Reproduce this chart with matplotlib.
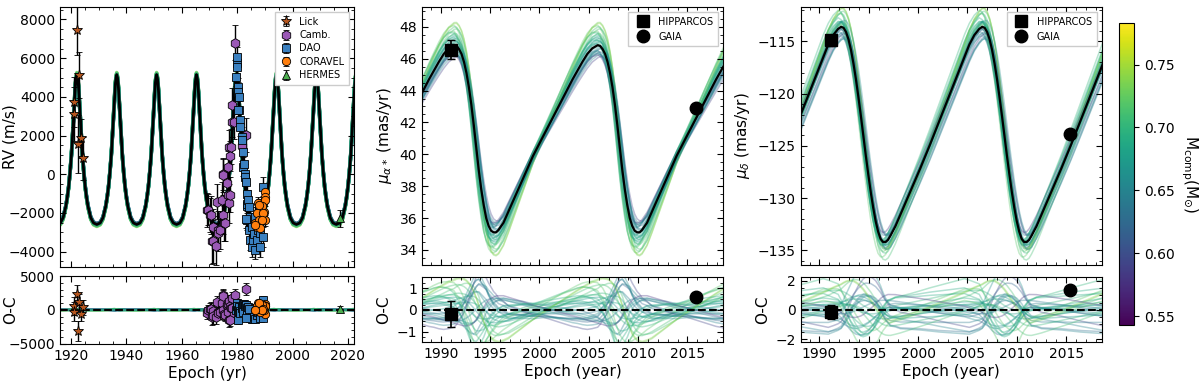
import numpy as np
import matplotlib
matplotlib.use("Agg")
import matplotlib.pyplot as plt
from matplotlib.ticker import MultipleLocator
from matplotlib.colors import Normalize
from matplotlib.cm import ScalarMappable
from matplotlib.lines import Line2D

# ---------------- data ----------------
# RV model, one orbital cycle starting at a peak (offset from peak [yr], RV [m/s])
rv_cycle_dt = [0.0, 0.25, 0.5, 0.75, 1.0, 1.25, 1.5, 2.0, 2.5, 3.0, 3.5, 4.0, 5.0, 6.0, 7.2,
               8.43, 9.43, 10.43, 10.93, 11.43, 11.93, 12.43, 12.93, 13.18, 13.43, 13.68, 13.93, 14.18]
rv_cycle_val = [5150, 5000, 4700, 4150, 3500, 2850, 2200, 1000, 100, -650, -1200, -1650, -2250, -2520, -2600,
                -2520, -2250, -1650, -1200, -650, 100, 1000, 2200, 2850, 3500, 4150, 4700, 5000]
rv_peak_epochs = [1907.7, 1922.1, 1936.5, 1950.9, 1965.3, 1979.8, 1994.2, 2008.6, 2023.0]

# mu_alpha* model, one cycle from a peak (offset [yr], value [mas/yr])
mua_cycle_dt = [0.0, 0.25, 0.5, 0.75, 1.0, 1.25, 1.5, 1.75, 2.0, 2.25, 2.5, 2.75, 3.0, 3.25, 3.5, 3.75,
                4.0, 4.25, 4.5, 5.0, 5.5, 6.0, 7.0, 8.0, 9.0, 10.0, 11.0, 12.0, 12.5, 13.0, 13.5, 14.0]
mua_cycle_val = [46.85, 46.8, 46.6, 46.3, 45.8, 45.1, 44.2, 43.1, 41.8, 40.4, 39.0, 37.8, 36.8, 36.0, 35.5, 35.2,
                 35.1, 35.1, 35.25, 35.7, 36.4, 37.1, 38.5, 39.9, 41.1, 42.3, 43.5, 44.7, 45.25, 45.8, 46.3, 46.65]
mua_peak_epochs = [1976.8, 1991.35, 2005.9]

# mu_delta model, one cycle from a peak (offset [yr], value [mas/yr])
mud_cycle_dt = [0.0, 0.25, 0.5, 0.75, 1.0, 1.25, 1.5, 1.75, 2.0, 2.25, 2.5, 2.75, 3.0, 3.25, 3.5, 3.75,
                4.0, 4.25, 4.5, 4.75, 5.0, 5.5, 6.0, 7.0, 8.0, 9.0, 10.0, 11.0, 12.0, 12.5, 13.0, 13.5, 14.0]
mud_cycle_val = [-113.6, -113.7, -114.1, -114.8, -115.8, -117.1, -118.6, -120.3, -122.1, -124.0, -125.9,
                 -127.7, -129.4, -130.9, -132.2, -133.2, -133.9, -134.2, -134.2, -134.0, -133.6, -132.7,
                 -131.6, -129.4, -127.2, -124.9, -122.5, -120.1, -117.7, -116.5, -115.3, -114.4, -113.8]
mud_peak_epochs = [1977.9, 1992.2, 2006.5]

# posterior draws: companion mass, amplitude scale, epoch shift [yr], mu_delta offset [mas/yr]
draw_mass = [0.68, 0.66, 0.71, 0.64, 0.67, 0.70, 0.65, 0.72, 0.63, 0.69, 0.67, 0.73, 0.66, 0.59, 0.70,
             0.64, 0.68, 0.71, 0.62, 0.67, 0.74, 0.65, 0.69, 0.58, 0.70, 0.66, 0.72, 0.64, 0.67, 0.69]
draw_scale = [1.05, 0.92, 1.18, 0.95, 1.08, 1.12, 0.90, 1.22, 0.97, 1.03, 1.10, 1.25, 0.94, 0.88, 1.15,
              1.00, 1.06, 1.20, 0.93, 1.02, 1.24, 0.96, 1.09, 0.90, 1.13, 0.99, 1.16, 0.91, 1.04, 1.07]
draw_shift = [0.05, -0.10, 0.15, -0.20, 0.10, -0.05, 0.20, -0.15, 0.25, -0.25, 0.00, 0.10, -0.10, 0.30, -0.30,
              0.15, -0.05, 0.05, 0.20, -0.20, 0.10, 0.25, -0.15, -0.10, 0.05, 0.30, -0.25, 0.00, 0.15, -0.30]
draw_offset = [0.3, -0.4, 0.6, -0.2, 0.1, 0.7, -0.6, 0.2, -0.8, 0.4, -0.1, 0.5, -0.3, 0.0, 0.8,
               -0.5, 0.2, -0.7, 0.3, -0.2, 0.6, -0.9, 0.1, 0.4, -0.4, 0.7, -0.6, 0.2, -0.1, 0.5]

# RV data
lick_t = [1921.0, 1921.1, 1922.0, 1922.6, 1922.9, 1923.5, 1924.4]
lick_rv = [3740, 3110, 7450, 1540, 5120, 1850, 820]
lick_err = [1300, 1400, 1300, 1500, 1200, 1000, 1100]

camb_t = [1969.0, 1969.6, 1970.2, 1970.4, 1971.0, 1971.4, 1971.4, 1972.3, 1972.6, 1973.2, 1973.2, 1973.8,
          1974.4, 1974.7, 1975.0, 1975.0, 1975.2, 1975.6, 1976.2, 1976.6, 1976.8, 1977.2, 1977.2, 1977.4,
          1977.8, 1978.1, 1978.3, 1978.7, 1979.2, 1981.6, 1983.2, 1977.4]
camb_rv = [-1850, -1846, -2110, -2104, -3430, -2707, -3480, -3690, -1420, -2880, -3050, -2880,
           -1330, 0, -40, -2100, -2530, -2530, -470, -1070, 390, 1390, -1500, 940,
           1420, 3575, 2710, 2710, 6790, 1460, 2030, -1070]
camb_err = [900, 800, 900, 1000, 1200, 900, 1100, 1000, 900, 1000, 900, 1000,
            900, 800, 900, 1000, 900, 900, 800, 900, 800, 900, 1000, 800,
            900, 900, 800, 900, 900, 800, 900, 900]

dao_t = [1979.6, 1979.8, 1980.0, 1980.0, 1980.4, 1980.4, 1980.7, 1980.8, 1980.2, 1981.0, 1981.0, 1981.6,
         1981.6, 1982.2, 1982.0, 1982.6, 1982.8, 1982.8, 1983.2, 1983.4, 1983.4, 1983.7, 1984.0, 1983.7,
         1984.1, 1984.6, 1984.7, 1985.2, 1985.3, 1985.8, 1985.9, 1986.4, 1986.5, 1987.1, 1987.7, 1988.2,
         1988.3, 1989.4, 1989.5, 1989.4, 1984.1, 1983.2]
dao_rv = [5040, 5730, 6070, 5540, 4500, 4260, 3320, 3990, 3300, 2780, 2460, 1920,
          1770, 1160, 390, 540, 20, -130, -410, -1010, -1670, -1530, -1330, -2390,
          -2910, -2190, -3420, -2710, -3770, -3390, -3080, -3910, -2220, -3420, -2910, -3050,
          -3770, -2190, -3250, -640, -1700, -2300]
dao_err = [500] * len(dao_t)

cor_t = [1990.0, 1990.0, 1989.3, 1989.5, 1990.0, 1987.6, 1987.0, 1986.4, 1987.0, 1988.2, 1988.0, 1989.7,
         1989.9, 1988.9, 1988.0, 1989.4, 1988.9, 1986.4]
cor_rv = [-900, -1160, -1500, -1940, -2390, -1500, -2020, -2530, -2710, -2790, -2360, -1940,
          -1340, -1670, -1590, -2020, -2360, -2620]
cor_err = [300] * len(cor_t)

her_t = [2017.3]
her_rv = [-2280]
her_err = [450]

# absolute astrometry
hip_t, hip_mua, hip_mua_err = 1991.0, 46.55, 0.6
hip_mud_t, hip_mud, hip_mud_err = 1991.2, -114.9, 0.5
gaia_t, gaia_mua, gaia_mua_err = 2015.9, 42.9, 0.05
gaia_mud_t, gaia_mud, gaia_mud_err = 2015.35, -123.9, 0.05

# ---------------- helpers ----------------
def tile(cycle_dt, cycle_val, peaks):
    t, v = [], []
    for p in peaks:
        for d, y in zip(cycle_dt, cycle_val):
            t.append(p + d)
            v.append(y)
    t = np.array(t); v = np.array(v)
    o = np.argsort(t, kind="stable")
    return t[o], v[o]

rv_t, rv_m = tile(rv_cycle_dt, rv_cycle_val, rv_peak_epochs)
mua_t, mua_m = tile(mua_cycle_dt, mua_cycle_val, mua_peak_epochs)
mud_t, mud_m = tile(mud_cycle_dt, mud_cycle_val, mud_peak_epochs)

cmap = plt.get_cmap("viridis")
norm = Normalize(0.543, 0.783)

fig = plt.figure(figsize=(12, 3.85), dpi=100)
ax1 = fig.add_axes([0.050, 0.3065, 0.245, 0.6755])
ax1r = fig.add_axes([0.050, 0.1065, 0.245, 0.1765])
ax2 = fig.add_axes([0.3517, 0.3117, 0.2508, 0.6703])
ax2r = fig.add_axes([0.3517, 0.1117, 0.2508, 0.1688])
ax3 = fig.add_axes([0.6672, 0.3117, 0.2508, 0.6703])
ax3r = fig.add_axes([0.6672, 0.1117, 0.2508, 0.1688])
cax = fig.add_axes([0.9325, 0.156, 0.0125, 0.784])

def style(ax):
    ax.tick_params(which="both", direction="in", top=True, right=True, labelsize=10)
    ax.tick_params(which="major", length=4)
    ax.tick_params(which="minor", length=2)

# ---------------- RV panel ----------------
for m, s, dt in zip(draw_mass, draw_scale, draw_shift):
    c = cmap(norm(m))
    s_rv = 1 + 0.12 * (s - 1)
    y = s_rv * np.interp(rv_t - 0.15 * dt, rv_t, rv_m) - 120 * (s - 1)
    ax1.plot(rv_t, y, color=c, alpha=0.35, lw=2.5, zorder=1)
    ax1r.plot(rv_t, y - rv_m, color=c, alpha=0.3, lw=1.5, zorder=1)
ax1.plot(rv_t, rv_m, color="k", lw=2, zorder=2)
ax1r.axhline(0, color="k", ls="--", lw=1.5, zorder=2)

inst = [("Lick", lick_t, lick_rv, lick_err, "*", "#b5561f", 8),
        ("Camb.", camb_t, camb_rv, camb_err, "h", "#9b59b6", 7),
        ("DAO", dao_t, dao_rv, dao_err, "s", "#3a80c0", 6),
        ("CORAVEL", cor_t, cor_rv, cor_err, "o", "#ff7f0e", 6),
        ("HERMES", her_t, her_rv, her_err, "^", "#4caf50", 6)]
for name, t, v, e, mk, col, ms in inst:
    t = np.array(t); v = np.array(v); e = np.array(e)
    ax1.errorbar(t, v, yerr=e, fmt=mk, color=col, mec="k", mew=0.6, ms=ms,
                 ecolor="k", elinewidth=1, capsize=2.5, label=name, zorder=3)
    res = v - np.interp(t, rv_t, rv_m)
    ax1r.errorbar(t, res, yerr=e, fmt=mk, color=col, mec="k", mew=0.6, ms=ms,
                  ecolor="k", elinewidth=1, capsize=2.5, zorder=3)

ax1.set_xlim(1916, 2022.2)
ax1r.set_xlim(1916, 2022.2)
ax1.set_ylim(-4800, 8650)
ax1r.set_ylim(-5050, 5000)
ax1.set_ylabel("RV (m/s)", fontsize=11)
ax1r.set_ylabel("O-C", fontsize=11)
ax1.yaxis.set_label_coords(-0.143, 0.5)
ax1r.yaxis.set_label_coords(-0.143, 0.5)
ax1r.set_xlabel("Epoch (yr)", fontsize=11, labelpad=2)
ax1.xaxis.set_major_locator(MultipleLocator(20)); ax1.xaxis.set_minor_locator(MultipleLocator(5))
ax1r.xaxis.set_major_locator(MultipleLocator(20)); ax1r.xaxis.set_minor_locator(MultipleLocator(5))
ax1.yaxis.set_major_locator(MultipleLocator(2000)); ax1.yaxis.set_minor_locator(MultipleLocator(500))
ax1r.yaxis.set_major_locator(MultipleLocator(5000)); ax1r.yaxis.set_minor_locator(MultipleLocator(1000))
leg = ax1.legend(loc="upper right", fontsize=7, handletextpad=0.8, borderpad=0.5,
                 labelspacing=0.35, handlelength=1.2, fancybox=False, framealpha=1)
leg.get_frame().set_edgecolor("#cccccc")

# ---------------- proper motion panels ----------------
def pm_panel(ax, axr, t, m, center, dscale, dofs, hip, gaia):
    for mm, s, dt, of in zip(draw_mass, draw_scale, draw_shift, draw_offset):
        c = cmap(norm(mm))
        y = center + (1 + dscale * (s - 1)) * (np.interp(t - dt, t, m) - center) + dofs * of
        ax.plot(t, y, color=c, alpha=0.35, lw=1.1, zorder=1)
        axr.plot(t, y - m, color=c, alpha=0.35, lw=1.1, zorder=1)
    ax.plot(t, m, color="k", lw=1.6, zorder=2)
    axr.axhline(0, color="k", ls="--", lw=1.5, zorder=2)
    (ht, hv, he), (gt, gv, ge) = hip, gaia
    ax.errorbar([ht], [hv], yerr=[he], fmt="s", color="k", ms=9, capsize=3, lw=1.2, zorder=3)
    ax.errorbar([gt], [gv], yerr=[ge], fmt="o", color="k", ms=9, capsize=3, lw=1.2, zorder=3)
    axr.errorbar([ht], [hv - np.interp(ht, t, m)], yerr=[he], fmt="s", color="k", ms=9,
                 capsize=3, lw=1.2, zorder=3)
    axr.errorbar([gt], [gv - np.interp(gt, t, m)], yerr=[ge], fmt="o", color="k", ms=9,
                 capsize=3, lw=1.2, zorder=3)
    handles = [Line2D([], [], ls="none", marker="s", color="k", ms=9),
               Line2D([], [], ls="none", marker="o", color="k", ms=9)]
    lg = ax.legend(handles, ["HIPPARCOS", "GAIA"], loc="upper right", fontsize=7,
                   handletextpad=0.6, borderpad=0.5, labelspacing=0.5, fancybox=False,
                   framealpha=1)
    lg.get_frame().set_edgecolor("#cccccc")
    for a in (ax, axr):
        a.set_xlim(1988.1, 2018.6)
        a.xaxis.set_major_locator(MultipleLocator(5)); a.xaxis.set_minor_locator(MultipleLocator(1))
    axr.set_xlabel("Epoch (year)", fontsize=11, labelpad=2)
    axr.set_ylabel("O-C", fontsize=11)

pm_panel(ax2, ax2r, mua_t, mua_m, 41.0, 1.0, 0.0,
         (hip_t, hip_mua, hip_mua_err), (gaia_t, gaia_mua, gaia_mua_err))
ax2.set_ylim(33.05, 49.25)
ax2r.set_ylim(-1.48, 1.52)
ax2.yaxis.set_major_locator(MultipleLocator(2)); ax2.yaxis.set_minor_locator(MultipleLocator(0.5))
ax2r.yaxis.set_major_locator(MultipleLocator(1)); ax2r.yaxis.set_minor_locator(MultipleLocator(0.25))
ax2.set_ylabel(r"$\mu_{\alpha*}$ (mas/yr)", fontsize=11)

pm_panel(ax3, ax3r, mud_t, mud_m, -124.0, 0.5, 1.0,
         (hip_mud_t, hip_mud, hip_mud_err), (gaia_mud_t, gaia_mud, gaia_mud_err))
ax3.set_ylim(-136.4, -111.7)
ax3r.set_ylim(-2.2, 2.25)
ax3.yaxis.set_major_locator(MultipleLocator(5)); ax3.yaxis.set_minor_locator(MultipleLocator(1))
ax3r.yaxis.set_major_locator(MultipleLocator(2)); ax3r.yaxis.set_minor_locator(MultipleLocator(0.5))
ax3.set_ylabel(r"$\mu_{\delta}$ (mas/yr)", fontsize=11)

for a in (ax1, ax1r, ax2, ax2r, ax3, ax3r):
    style(a)
for a in (ax1, ax2, ax3):
    a.tick_params(labelbottom=False)

sm = ScalarMappable(norm=norm, cmap=cmap)
cb = fig.colorbar(sm, cax=cax)
cb.set_ticks([0.55, 0.60, 0.65, 0.70, 0.75])
cb.ax.tick_params(labelsize=10)
cb.set_label(r"M$_{\rm comp}$(M$_{\odot}$)", rotation=270, labelpad=18, fontsize=11)

fig.savefig("out.png", dpi=100)
